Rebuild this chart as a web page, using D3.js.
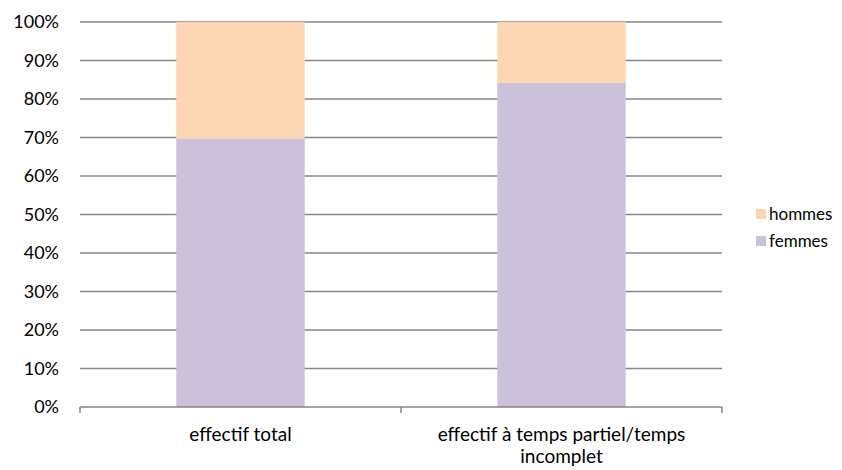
<!DOCTYPE html>
<html><head><meta charset="utf-8">
<script src="https://cdn.jsdelivr.net/npm/d3@7"></script>
<style>body{margin:0;background:#fff}svg{display:block;font-family:Lato,"Open Sans",sans-serif}</style>
</head><body>
<svg id="c" width="842" height="470"></svg>
<script>
const categories = ["effectif total", "effectif à temps partiel/temps incomplet"];
const femmes = [0.697, 0.842];
const hommes = [0.303, 0.158];
const seriesNames = ["femmes", "hommes"];
const colors = ["#CCC1DA", "#FCD5B5"];
const yTicks = [0,0.1,0.2,0.3,0.4,0.5,0.6,0.7,0.8,0.9,1];

const svg = d3.select("#c");
const L=80, R=722, T=22, B=407;
const x = d3.scaleBand().domain(categories).range([L,R]).paddingInner(0.6).paddingOuter(0.3);
const xb = d3.scaleBand().domain(categories).range([L,R]);
const y = d3.scaleLinear().domain([0,1]).range([B,T]);

// gridlines
svg.append("g").selectAll("line").data(yTicks.slice(1)).join("line")
  .attr("x1",L).attr("x2",R).attr("y1",d=>y(d)).attr("y2",d=>y(d))
  .attr("stroke","#868686").attr("stroke-width",1.5);

// y labels
svg.append("g").selectAll("text").data(yTicks).join("text")
  .attr("x",59).attr("y",d=>y(d)).attr("dy","0.35em").attr("text-anchor","end")
  .attr("font-size",18).attr("fill","#000").text(d3.format(".0%"));

// bars
const data = categories.map((c,i)=>({c, f:femmes[i], h:hommes[i]}));
const stack = d3.stack().keys(["f","h"])(data);
svg.append("g").selectAll("g").data(stack).join("g").attr("fill",(d,i)=>colors[i])
  .selectAll("rect").data(d=>d).join("rect")
  .attr("x",d=>x(d.data.c)).attr("width",x.bandwidth())
  .attr("y",d=>y(d[1])).attr("height",d=>y(d[0])-y(d[1]));

// x axis
const xa = svg.append("g").attr("transform",`translate(0,${B})`);
xa.append("line").attr("x1",L).attr("x2",R).attr("stroke","#868686").attr("stroke-width",1.5);
const tickPos = [L, ...categories.map(c=>xb(c)+xb.bandwidth())];
xa.selectAll("line.t").data(tickPos).join("line").attr("class","t")
  .attr("x1",d=>d).attr("x2",d=>d).attr("y1",0).attr("y2",6)
  .attr("stroke","#868686").attr("stroke-width",1.5);

// x labels
const labelLines = [["effectif total"],["effectif à temps partiel/temps","incomplet"]];
categories.forEach((c,i)=>{
  const t = svg.append("text").attr("x",xb(c)+xb.bandwidth()/2).attr("y",441)
    .attr("text-anchor","middle").attr("font-size",19).attr("fill","#000");
  labelLines[i].forEach((l,j)=>t.append("tspan").attr("x",xb(c)+xb.bandwidth()/2).attr("dy",j?"22px":0).text(l));
});

// legend
const leg = [{n:"hommes",c:colors[1],y:214},{n:"femmes",c:colors[0],y:241}];
leg.forEach(d=>{
  svg.append("rect").attr("x",756).attr("y",d.y-5).attr("width",10).attr("height",10).attr("fill",d.c);
  svg.append("text").attr("x",769).attr("y",d.y).attr("dy","0.35em").attr("font-size",17).text(d.n);
});
</script>
</body></html>
